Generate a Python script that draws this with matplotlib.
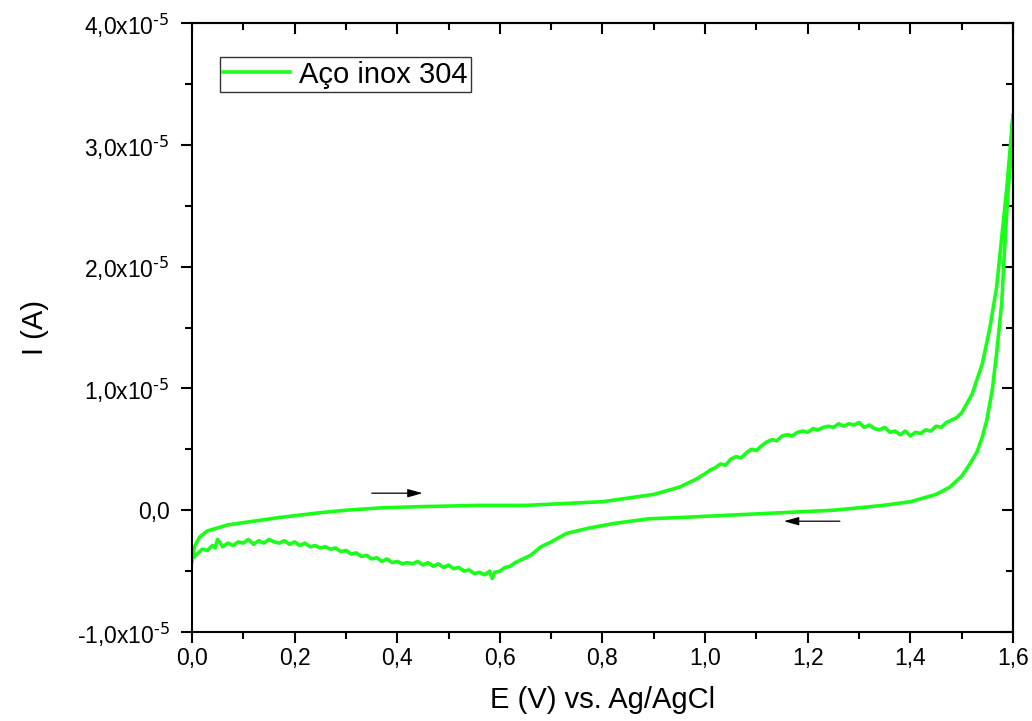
import matplotlib
matplotlib.use("Agg")
import matplotlib.pyplot as plt
from matplotlib.ticker import MultipleLocator, FuncFormatter

# --------------------------
# data, current in units of 1e-5 A
# --------------------------
# forward (anodic) sweep, 0 -> 1.6 V
fwd_E = [0.000, 0.005, 0.015, 0.030, 0.070, 0.120, 0.170, 0.250, 0.300, 0.370,
         0.450, 0.560, 0.650, 0.750, 0.800, 0.850, 0.900, 0.950, 0.980, 1.000,
         1.010, 1.020, 1.030, 1.040, 1.050, 1.060, 1.070, 1.080, 1.090, 1.100,
         1.110, 1.120, 1.130, 1.140, 1.150, 1.160, 1.170, 1.180, 1.190, 1.200,
         1.210, 1.220, 1.230, 1.240, 1.250, 1.260, 1.270, 1.280, 1.290, 1.300,
         1.310, 1.320, 1.330, 1.340, 1.350, 1.360, 1.370, 1.380, 1.390, 1.400,
         1.410, 1.420, 1.430, 1.440, 1.450, 1.460, 1.470, 1.480, 1.490, 1.500,
         1.520, 1.540, 1.555, 1.568, 1.578, 1.588, 1.595, 1.600]
fwd_I = [-0.42, -0.30, -0.22, -0.17, -0.12, -0.09, -0.06, -0.02, 0.00, 0.02,
         0.03, 0.04, 0.04, 0.06, 0.07, 0.10, 0.13, 0.19, 0.25, 0.30,
         0.33, 0.35, 0.38, 0.37, 0.42, 0.44, 0.43, 0.47, 0.50, 0.49,
         0.53, 0.56, 0.58, 0.57, 0.61, 0.62, 0.61, 0.64, 0.65, 0.64,
         0.67, 0.66, 0.68, 0.69, 0.68, 0.71, 0.69, 0.71, 0.70, 0.72,
         0.68, 0.70, 0.67, 0.66, 0.68, 0.64, 0.65, 0.62, 0.65, 0.61,
         0.64, 0.63, 0.66, 0.65, 0.69, 0.68, 0.72, 0.74, 0.76, 0.80,
         0.95, 1.20, 1.50, 1.83, 2.24, 2.65, 3.00, 3.25]

# reverse (cathodic) sweep, 1.6 -> 0 V
rev_E = [1.600, 1.596, 1.590, 1.583, 1.578, 1.568, 1.560, 1.549, 1.540, 1.530,
         1.516, 1.500, 1.477, 1.450, 1.400, 1.347, 1.300, 1.250, 1.150, 1.050,
         0.950, 0.890, 0.820, 0.770, 0.730, 0.700, 0.680, 0.660, 0.650, 0.640,
         0.630, 0.620, 0.610, 0.600, 0.590, 0.585, 0.580, 0.570, 0.560, 0.550,
         0.540, 0.530, 0.520, 0.510, 0.500, 0.490, 0.480, 0.470, 0.460, 0.450,
         0.440, 0.430, 0.420, 0.410, 0.400, 0.390, 0.380, 0.370, 0.360, 0.350,
         0.340, 0.330, 0.320, 0.310, 0.300, 0.290, 0.280, 0.270, 0.260, 0.250,
         0.240, 0.230, 0.220, 0.210, 0.200, 0.190, 0.180, 0.170, 0.160, 0.150,
         0.140, 0.130, 0.120, 0.110, 0.100, 0.090, 0.080, 0.070, 0.060, 0.050,
         0.045, 0.040, 0.030, 0.020, 0.010, 0.002]
rev_I = [3.25, 2.90, 2.60, 2.10, 1.70, 1.29, 1.00, 0.74, 0.60, 0.48,
         0.38, 0.28, 0.19, 0.13, 0.07, 0.04, 0.02, 0.00, -0.02, -0.04,
         -0.06, -0.07, -0.11, -0.15, -0.19, -0.26, -0.30, -0.37, -0.39, -0.41,
         -0.43, -0.46, -0.47, -0.50, -0.51, -0.56, -0.50, -0.53, -0.51, -0.52,
         -0.49, -0.50, -0.47, -0.48, -0.45, -0.47, -0.44, -0.46, -0.43, -0.45,
         -0.42, -0.44, -0.43, -0.44, -0.42, -0.43, -0.40, -0.42, -0.39, -0.40,
         -0.37, -0.38, -0.35, -0.36, -0.33, -0.34, -0.31, -0.32, -0.30, -0.31,
         -0.29, -0.30, -0.27, -0.29, -0.26, -0.28, -0.25, -0.27, -0.26, -0.24,
         -0.27, -0.25, -0.28, -0.24, -0.27, -0.26, -0.29, -0.27, -0.30, -0.24,
         -0.31, -0.29, -0.33, -0.32, -0.36, -0.39]

scale = 1e-5
green = "#1aff1a"
fonts = ["Liberation Sans", "DejaVu Sans"]

fig = plt.figure(figsize=(10.32, 7.21), dpi=100)
ax = fig.add_axes([0.186, 0.1234, 0.7956, 0.8446])

E_all = fwd_E + rev_E
I_all = [v * scale for v in fwd_I + rev_I]
ax.plot(E_all, I_all, color=green, linewidth=2.6, label="Aço inox 304")

# scan direction arrows
ax.annotate("", xy=(0.455, 0.14e-5), xytext=(0.345, 0.14e-5),
            arrowprops=dict(arrowstyle="-|>,head_length=0.9,head_width=0.25",
                            color="black", lw=0.9))
ax.annotate("", xy=(1.148, -0.09e-5), xytext=(1.268, -0.09e-5),
            arrowprops=dict(arrowstyle="-|>,head_length=0.9,head_width=0.25",
                            color="black", lw=0.9))

ax.set_xlim(0, 1.6)
ax.set_ylim(-1e-5, 4e-5)

ax.xaxis.set_major_locator(MultipleLocator(0.2))
ax.xaxis.set_minor_locator(MultipleLocator(0.1))
ax.yaxis.set_major_locator(MultipleLocator(1e-5))
ax.yaxis.set_minor_locator(MultipleLocator(0.5e-5))


def xfmt(v, pos):
    return f"{v:.1f}".replace(".", ",")


def yfmt(v, pos):
    m = round(v / scale, 1)
    if m == 0:
        return "0,0"
    return f"{m:.1f}".replace(".", ",") + r"x10$^{\text{-5}}$"


ax.xaxis.set_major_formatter(FuncFormatter(xfmt))
ax.yaxis.set_major_formatter(FuncFormatter(yfmt))

for lab in ax.get_xticklabels() + ax.get_yticklabels():
    lab.set_fontfamily(fonts)
    lab.set_fontsize(16.5)

ax.tick_params(which="both", direction="out", width=1.5, top=False, right=False)
ax.tick_params(which="major", length=8)
ax.tick_params(axis="x", which="major", pad=3)
ax.tick_params(axis="y", which="major", pad=8)
ax.tick_params(which="minor", length=5)

# mirrored ticks on top and right, pointing in
top = ax.secondary_xaxis("top")
top.xaxis.set_major_locator(MultipleLocator(0.2))
top.xaxis.set_minor_locator(MultipleLocator(0.1))
top.tick_params(which="both", direction="in", width=1.5, labeltop=False)
top.tick_params(which="major", length=8)
top.tick_params(which="minor", length=5)
right = ax.secondary_yaxis("right")
right.yaxis.set_major_locator(MultipleLocator(1e-5))
right.yaxis.set_minor_locator(MultipleLocator(0.5e-5))
right.tick_params(which="both", direction="in", width=1.5, labelright=False)
right.tick_params(which="major", length=8)
right.tick_params(which="minor", length=5)
for s in ax.spines.values():
    s.set_linewidth(1.5)
top.spines["top"].set_linewidth(1.5)
right.spines["right"].set_linewidth(1.5)

ax.set_xlabel("E (V) vs. Ag/AgCl", fontsize=21, fontfamily=fonts, labelpad=11)
ax.set_ylabel("I (A)", fontsize=21, fontfamily=fonts, labelpad=20)

leg = ax.legend(loc="upper left", bbox_to_anchor=(0.034, 0.944),
                prop={"family": fonts, "size": 21},
                frameon=True, fancybox=False, handlelength=2.3, handletextpad=0.3,
                borderpad=0.12, borderaxespad=0)
leg.get_frame().set_edgecolor("black")
leg.get_frame().set_linewidth(1.0)

fig.savefig("out.png", dpi=100)
